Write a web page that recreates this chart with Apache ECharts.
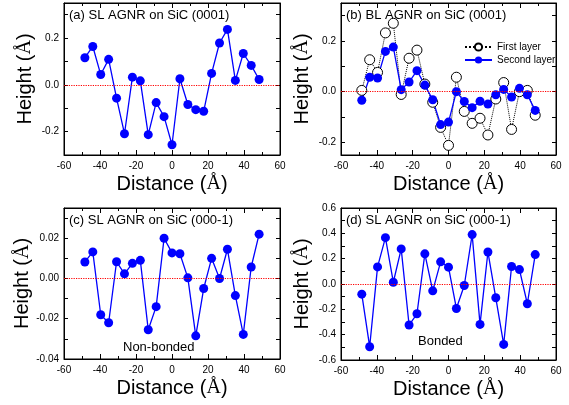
<!DOCTYPE html>
<html>
<head>
<meta charset="utf-8">
<script src="https://cdn.jsdelivr.net/npm/echarts@6/dist/echarts.min.js"></script>
<style>
  html, body { margin: 0; padding: 0; background: #fff; }
  #chart { width: 569px; height: 405px; }
</style>
</head>
<body>
<div id="chart"></div>
<script>
// distance along the ribbon (Å)
const distance = [-48.4, -44, -39.6, -35.2, -30.8, -26.4, -22, -17.6, -13.2, -8.8, -4.4, 0,
  4.4, 8.8, 13.2, 17.6, 22, 26.4, 30.8, 35.2, 39.6, 44, 48.4]

// (a) SL AGNR on SiC (0001)
const slSi = [0.116, 0.164, 0.044, 0.109, -0.057, -0.209, 0.033, 0.017, -0.213, -0.076, -0.136, -0.256,
  0.026, -0.084, -0.106, -0.113, 0.049, 0.179, 0.237, 0.019, 0.134, 0.083, 0.023]

// (b) BL AGNR on SiC (0001)
const blFirst = [0.005, 0.126, 0.076, 0.232, 0.270, -0.011, 0.132, 0.164, 0.030, -0.042, -0.141, -0.212,
  0.057, -0.078, -0.125, -0.105, -0.171, -0.029, 0.036, -0.149, 0.0, 0.005, -0.093]
const blSecond = [-0.034, 0.057, 0.054, 0.159, 0.176, 0.008, 0.038, 0.083, 0.026, -0.032, -0.130, -0.120,
  0.0, -0.039, -0.063, -0.038, -0.049, -0.012, 0.009, -0.021, 0.013, -0.012, -0.074]

// (c) SL AGNR on SiC (000-1), non-bonded
const slCNon = [0.0082, 0.0132, -0.018, -0.022, 0.0083, 0.0023, 0.0075, 0.009, -0.0255, -0.014, 0.020, 0.0127,
  0.0123, 0.0003, -0.0285, -0.005, 0.010, 0.0, 0.0145, -0.0085, -0.0278, 0.0057, 0.022]

// (d) SL AGNR on SiC (000-1), bonded
const slCBond = [-0.080, -0.495, 0.135, 0.366, 0.014, 0.277, -0.324, -0.235, 0.238, -0.054, 0.175, 0.133,
  -0.193, -0.012, 0.390, -0.319, 0.253, -0.109, -0.477, 0.138, 0.114, -0.156, 0.232]

// y tick labels and tick marks per panel
const yLabelA = [-0.2, 0, 0.2], yTickA = [-0.3, -0.2, -0.1, 0, 0.1, 0.2, 0.3]
const yLabelB = [-0.2, 0, 0.2], yTickB = [-0.2, -0.1, 0, 0.1, 0.2, 0.3]
const yLabelC = [-0.04, -0.02, 0, 0.02], yTickC = [-0.04, -0.03, -0.02, -0.01, 0, 0.01, 0.02, 0.03]
const yLabelD = [-0.6, -0.4, -0.2, 0, 0.2, 0.4, 0.6]
const yTickD = [-0.6, -0.5, -0.4, -0.3, -0.2, -0.1, 0, 0.1, 0.2, 0.3, 0.4, 0.5, 0.6]

const X_MIN = -60, X_MAX = 60
const FONT = 'Liberation Sans'
const BLUE = '#0000ff'

const panels = [
  { grid: { left: 64, top: 3, width: 216, height: 152 }, min: -0.3, max: 0.35, labels: yLabelA, ticks: yTickA, dec: 1, title: '(a) SL AGNR on SiC (0001)' },
  { grid: { left: 341, top: 3, width: 215, height: 152 }, min: -0.25, max: 0.35, labels: yLabelB, ticks: yTickB, dec: 1, title: '(b) BL AGNR on SiC (0001)' },
  { grid: { left: 64, top: 208, width: 216, height: 151 }, min: -0.04, max: 0.035, labels: yLabelC, ticks: yTickC, dec: 2, title: '(c) SL AGNR on SiC (000-1)' },
  { grid: { left: 341, top: 208, width: 215, height: 152 }, min: -0.6, max: 0.6, labels: yLabelD, ticks: yTickD, dec: 1, title: '(d) SL AGNR on SiC (000-1)' }
]

const rich = {
  t: { fontFamily: FONT, fontSize: 20, color: '#000' },
  s: { fontFamily: 'Liberation Serif', fontSize: 20, color: '#000' }
}

const grids = [], xAxes = [], yAxes = [], texts = []
panels.forEach((p, i) => {
  grids.push({ ...p.grid, outerBoundsMode: 'none', show: true, borderColor: '#000', borderWidth: 1, backgroundColor: 'transparent' })
  texts.push({
    type: 'text', left: p.grid.left + 5, top: p.grid.top + 6,
    style: { text: p.title, font: '13px "Liberation Sans"', fill: '#000' }
  })
  ;['bottom', 'top'].forEach(side => {
    xAxes.push({
      type: 'value', gridIndex: i, position: side, min: X_MIN, max: X_MAX, interval: 20,
      splitLine: { show: false },
      axisLine: { show: true, onZero: false, lineStyle: { color: '#000', width: 1 } },
      axisTick: { inside: true, length: 5, lineStyle: { color: '#000' } },
      minorTick: { show: true, splitNumber: 2, length: 3, lineStyle: { color: '#000' } },
      axisLabel: side === 'bottom'
        ? { fontFamily: FONT, fontSize: 10, color: '#000', margin: 6 }
        : { show: false },
      name: side === 'bottom' ? '{t|Distance (}{s|Å}{t|)}' : '',
      nameLocation: 'middle', nameGap: 19,
      nameTextStyle: { rich }
    })
  })
  ;['left', 'right'].forEach(side => {
    yAxes.push({
      type: 'value', gridIndex: i, position: side, min: p.min, max: p.max,
      splitLine: { show: false },
      axisLine: { show: true, onZero: false, lineStyle: { color: '#000', width: 1 } },
      axisTick: { inside: true, length: 4, customValues: p.ticks, lineStyle: { color: '#000' } },
      axisLabel: side === 'left'
        ? { fontFamily: FONT, fontSize: 10, color: '#000', margin: 5, customValues: p.labels, formatter: v => v.toFixed(p.dec) }
        : { show: false },
      name: side === 'left' ? '{t|Height (}{s|Å}{t|)}' : '',
      nameLocation: 'middle', nameGap: 29, nameRotate: 90,
      nameTextStyle: { rich }
    })
  })
})

// red dotted zero reference, plus the top and right edges of the frame
function panelLines(p) {
  const frame = { color: '#000', width: 1, type: 'solid' }
  return {
    silent: true, symbol: 'none', label: { show: false },
    lineStyle: { color: '#ff0000', type: 'dotted', width: 1.2 },
    data: [
      { yAxis: 0 },
      { yAxis: p.max, lineStyle: frame },
      { xAxis: X_MAX, lineStyle: frame }
    ]
  }
}

function blueSeries(name, values, panel) {
  return {
    name, type: 'line', xAxisIndex: panel * 2, yAxisIndex: panel * 2,
    data: distance.map((d, k) => [d, values[k]]),
    symbol: 'circle', symbolSize: 9, clip: false,
    itemStyle: { color: BLUE },
    lineStyle: { color: BLUE, width: 1.3 }
  }
}

const series = [
  { ...blueSeries('a', slSi, 0), markLine: panelLines(panels[0]) },
  {
    name: 'First layer', type: 'line', xAxisIndex: 2, yAxisIndex: 2,
    data: distance.map((d, k) => [d, blFirst[k]]),
    symbol: 'circle', symbolSize: 10, clip: false,
    itemStyle: { color: '#fff', borderColor: '#000', borderWidth: 1 },
    lineStyle: { color: '#000', width: 1, type: 'dotted' },
    markLine: panelLines(panels[1])
  },
  blueSeries('Second layer', blSecond, 1),
  { ...blueSeries('c', slCNon, 2), markLine: panelLines(panels[2]) },
  { ...blueSeries('d', slCBond, 3), markLine: panelLines(panels[3]) }
]

texts.push(
  { type: 'text', left: 123, top: 341, style: { text: 'Non-bonded', font: '13px "Liberation Sans"', fill: '#000' } },
  { type: 'text', left: 418, top: 335, style: { text: 'Bonded', font: '13px "Liberation Sans"', fill: '#000' } }
)

const chart = echarts.init(document.getElementById('chart'))
chart.setOption({
  animation: false,
  grid: grids,
  xAxis: xAxes,
  yAxis: yAxes,
  legend: {
    data: ['First layer', 'Second layer'],
    orient: 'vertical', left: 459, top: 37,
    itemWidth: 27, itemHeight: 9, itemGap: 3,
    textStyle: { fontFamily: FONT, fontSize: 10, color: '#000' }
  },
  graphic: texts,
  series
})
</script>
</body>
</html>
